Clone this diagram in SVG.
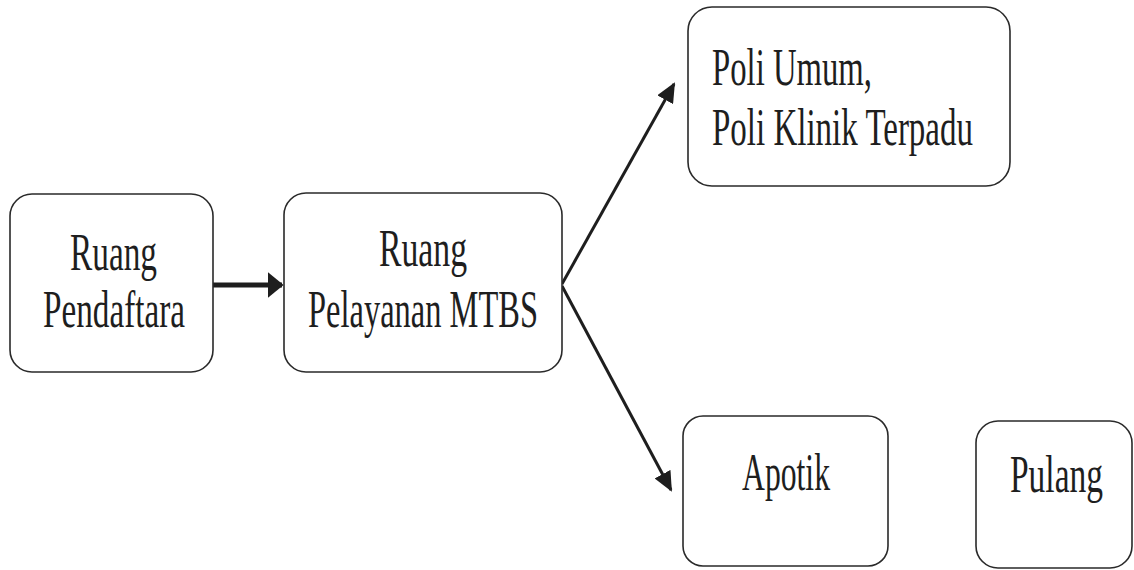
<svg xmlns="http://www.w3.org/2000/svg" width="1134" height="570" viewBox="0 0 1134 570">
<style>
.box{fill:#fff;stroke:#2a2a2a;stroke-width:1.6}
.t{font-family:"Liberation Serif","DejaVu Serif",serif;font-size:52px;fill:#1e1e1e}
.c{fill:none;stroke:#1e1e1e}
</style>
<defs>
<marker id="ah" viewBox="0 0 10 10" refX="9" refY="5" markerWidth="16" markerHeight="26" markerUnits="userSpaceOnUse" orient="auto" preserveAspectRatio="none">
<path d="M0,0 L10,5 L0,10 z" fill="#1e1e1e"/>
</marker>
<marker id="ah2" viewBox="0 0 10 10" refX="9" refY="5" markerWidth="20" markerHeight="18" markerUnits="userSpaceOnUse" orient="auto" preserveAspectRatio="none">
<path d="M0,0 L10,5 L0,10 z" fill="#1e1e1e"/>
</marker>
</defs>
<rect width="1134" height="570" fill="#fff"/>
<g id="connectors">
<line class="c" x1="213" y1="285" x2="282" y2="285" stroke-width="5" marker-end="url(#ah)"/>
<line class="c" x1="562" y1="284" x2="674" y2="84" stroke-width="3" marker-end="url(#ah2)"/>
<line class="c" x1="562" y1="286" x2="671" y2="490" stroke-width="3" marker-end="url(#ah2)"/>
</g>
<g id="ruang-pendaftara">
<rect class="box" x="10" y="194" width="203" height="178" rx="22"/>
<text class="t" x="70" y="270" textLength="87" lengthAdjust="spacingAndGlyphs">Ruang</text>
<text class="t" x="43" y="327" textLength="142" lengthAdjust="spacingAndGlyphs">Pendaftara</text>
</g>
<g id="ruang-pelayanan">
<rect class="box" x="284" y="193" width="278" height="179" rx="22"/>
<text class="t" x="379" y="266" textLength="88" lengthAdjust="spacingAndGlyphs">Ruang</text>
<text class="t" x="308" y="327" textLength="230" lengthAdjust="spacingAndGlyphs">Pelayanan MTBS</text>
</g>
<g id="poli">
<rect class="box" x="688" y="7" width="322" height="179" rx="24"/>
<text class="t" x="712" y="85" textLength="160" lengthAdjust="spacingAndGlyphs">Poli Umum,</text>
<text class="t" x="712" y="145" textLength="261" lengthAdjust="spacingAndGlyphs">Poli Klinik Terpadu</text>
</g>
<g id="apotik">
<rect class="box" x="683" y="416" width="205" height="150" rx="20"/>
<text class="t" x="742" y="490" textLength="88" lengthAdjust="spacingAndGlyphs">Apotik</text>
</g>
<g id="pulang">
<rect class="box" x="976" y="421" width="156" height="147" rx="22"/>
<text class="t" transform="translate(1010,492) scale(0.64,1)" x="0" y="0" textLength="145.3" lengthAdjust="spacingAndGlyphs">Pulang</text>
</g>
</svg>
